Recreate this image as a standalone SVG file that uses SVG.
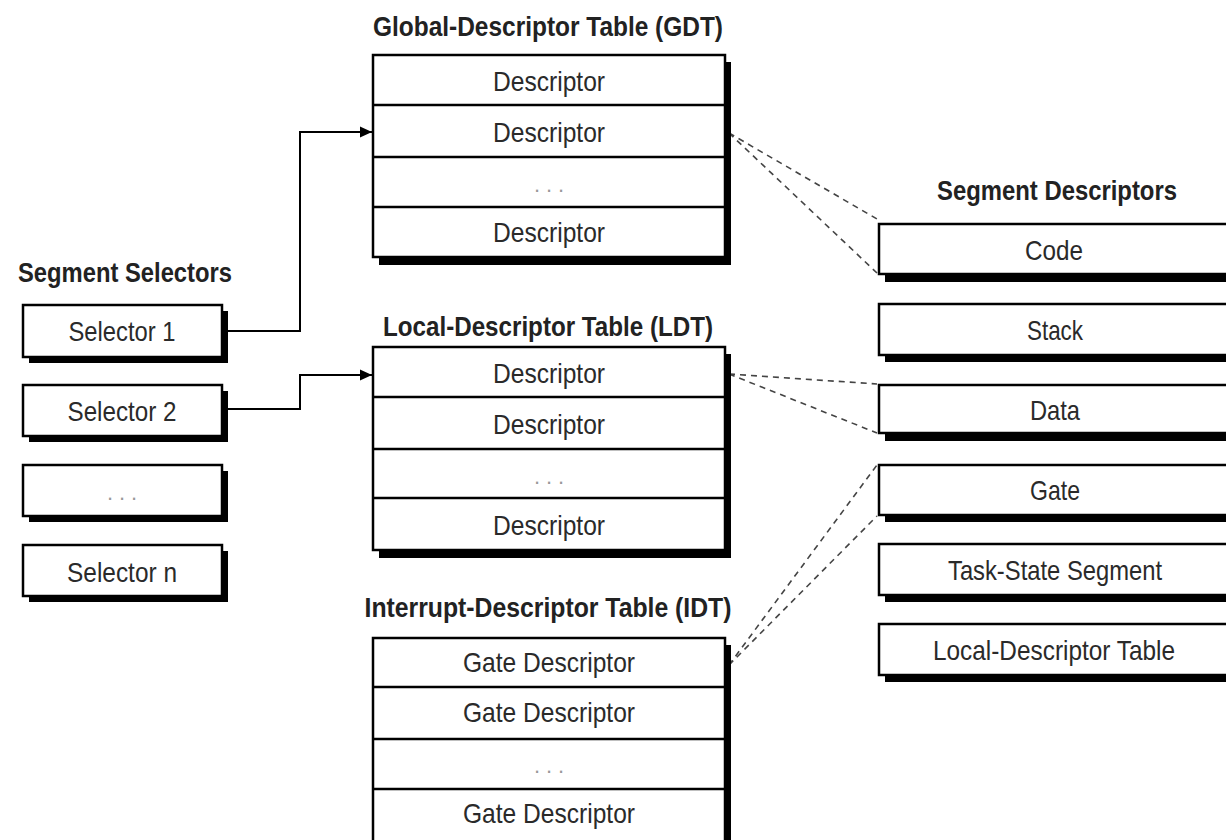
<svg xmlns="http://www.w3.org/2000/svg" width="1226" height="840" viewBox="0 0 1226 840">
<defs>
<style>
.sh{fill:#000}
.bx{fill:#fff;stroke:#000;stroke-width:2.5}
.dv{stroke:#000;stroke-width:2.5}
.t{font-family:"Liberation Sans",Arial,sans-serif;font-size:28px;fill:#2a2a2a;text-anchor:middle}
.h{font-family:"Liberation Sans",Arial,sans-serif;font-size:28px;font-weight:bold;fill:#222;text-anchor:middle}
.dots{font-family:"Liberation Sans",Arial,sans-serif;font-size:22px;fill:#999;text-anchor:middle}
.cn{fill:none;stroke:#000;stroke-width:2}
.ds{fill:none;stroke:#444;stroke-width:1.6;stroke-dasharray:6 5}
</style>
<marker id="arr" viewBox="0 0 12 12" refX="12" refY="6" markerWidth="12" markerHeight="12" markerUnits="userSpaceOnUse" orient="auto">
<path d="M0,0.5 L12,6 L0,11.5 z" fill="#000"/>
</marker>
</defs>
<rect width="1226" height="840" fill="#fff"/>

<g id="connectors">
<path class="cn" d="M222,331 H300 V132 H372" marker-end="url(#arr)"/>
<path class="cn" d="M222,409 H300 V375 H372" marker-end="url(#arr)"/>
<path class="ds" d="M729,133 L877,219"/>
<path class="ds" d="M729,133 L877,273"/>
<path class="ds" d="M729,374 L877,384"/>
<path class="ds" d="M729,374 L877,433"/>
<path class="ds" d="M729,665 L877,465"/>
<path class="ds" d="M729,665 L877,516"/>
</g>

<g id="selectors">
<text class="h" x="125" y="282" textLength="214" lengthAdjust="spacingAndGlyphs">Segment Selectors</text>
<g id="sel1">
<rect class="sh" x="29" y="311" width="199" height="52"/>
<rect class="bx" x="23" y="305" width="199" height="52"/>
<text class="t" x="122" y="341" textLength="107" lengthAdjust="spacingAndGlyphs">Selector 1</text>
</g>
<g id="sel2">
<rect class="sh" x="29" y="391" width="199" height="51"/>
<rect class="bx" x="23" y="385" width="199" height="51"/>
<text class="t" x="122" y="421" textLength="109" lengthAdjust="spacingAndGlyphs">Selector 2</text>
</g>
<g id="seldots">
<rect class="sh" x="29" y="471" width="199" height="51"/>
<rect class="bx" x="23" y="465" width="199" height="51"/>
<text class="dots" x="122" y="500" textLength="30" lengthAdjust="spacing">. . .</text>
</g>
<g id="seln">
<rect class="sh" x="29" y="551" width="199" height="51"/>
<rect class="bx" x="23" y="545" width="199" height="51"/>
<text class="t" x="122" y="582" textLength="110" lengthAdjust="spacingAndGlyphs">Selector n</text>
</g>
</g>

<g id="gdt">
<text class="h" x="548" y="36" textLength="350" lengthAdjust="spacingAndGlyphs">Global-Descriptor Table (GDT)</text>
<rect class="sh" x="379" y="62" width="352" height="203"/>
<rect class="bx" x="373" y="55" width="352" height="202"/>
<line class="dv" x1="373" y1="105" x2="725" y2="105"/>
<line class="dv" x1="373" y1="157" x2="725" y2="157"/>
<line class="dv" x1="373" y1="207" x2="725" y2="207"/>
<text class="t" x="549" y="91" textLength="112" lengthAdjust="spacingAndGlyphs">Descriptor</text>
<text class="t" x="549" y="142" textLength="112" lengthAdjust="spacingAndGlyphs">Descriptor</text>
<text class="dots" x="549" y="192" textLength="30" lengthAdjust="spacing">. . .</text>
<text class="t" x="549" y="242" textLength="112" lengthAdjust="spacingAndGlyphs">Descriptor</text>
</g>

<g id="ldt">
<text class="h" x="548" y="336" textLength="330" lengthAdjust="spacingAndGlyphs">Local-Descriptor Table (LDT)</text>
<rect class="sh" x="379" y="354" width="352" height="204"/>
<rect class="bx" x="373" y="347" width="352" height="203"/>
<line class="dv" x1="373" y1="397" x2="725" y2="397"/>
<line class="dv" x1="373" y1="449" x2="725" y2="449"/>
<line class="dv" x1="373" y1="498" x2="725" y2="498"/>
<text class="t" x="549" y="383" textLength="112" lengthAdjust="spacingAndGlyphs">Descriptor</text>
<text class="t" x="549" y="434" textLength="112" lengthAdjust="spacingAndGlyphs">Descriptor</text>
<text class="dots" x="549" y="484" textLength="30" lengthAdjust="spacing">. . .</text>
<text class="t" x="549" y="535" textLength="112" lengthAdjust="spacingAndGlyphs">Descriptor</text>
</g>

<g id="idt">
<text class="h" x="548" y="617" textLength="367" lengthAdjust="spacingAndGlyphs">Interrupt-Descriptor Table (IDT)</text>
<rect class="sh" x="379" y="645" width="352" height="210"/>
<rect class="bx" x="373" y="638" width="352" height="210"/>
<line class="dv" x1="373" y1="687" x2="725" y2="687"/>
<line class="dv" x1="373" y1="739" x2="725" y2="739"/>
<line class="dv" x1="373" y1="789" x2="725" y2="789"/>
<text class="t" x="549" y="672" textLength="172" lengthAdjust="spacingAndGlyphs">Gate Descriptor</text>
<text class="t" x="549" y="722" textLength="172" lengthAdjust="spacingAndGlyphs">Gate Descriptor</text>
<text class="dots" x="549" y="773" textLength="30" lengthAdjust="spacing">. . .</text>
<text class="t" x="549" y="823" textLength="172" lengthAdjust="spacingAndGlyphs">Gate Descriptor</text>
</g>

<g id="segdesc">
<text class="h" x="1057" y="200" textLength="240" lengthAdjust="spacingAndGlyphs">Segment Descriptors</text>
<g id="code">
<rect class="sh" x="885" y="231" width="352" height="51"/>
<rect class="bx" x="879" y="224" width="352" height="50"/>
<text class="t" x="1054" y="260" textLength="58" lengthAdjust="spacingAndGlyphs">Code</text>
</g>
<g id="stack">
<rect class="sh" x="885" y="311" width="352" height="51"/>
<rect class="bx" x="879" y="304" width="352" height="51"/>
<text class="t" x="1055" y="340" textLength="56" lengthAdjust="spacingAndGlyphs">Stack</text>
</g>
<g id="data">
<rect class="sh" x="885" y="392" width="352" height="49"/>
<rect class="bx" x="879" y="385" width="352" height="48"/>
<text class="t" x="1055" y="420" textLength="50" lengthAdjust="spacingAndGlyphs">Data</text>
</g>
<g id="gate">
<rect class="sh" x="885" y="472" width="352" height="50"/>
<rect class="bx" x="879" y="465" width="352" height="50"/>
<text class="t" x="1055" y="500" textLength="50" lengthAdjust="spacingAndGlyphs">Gate</text>
</g>
<g id="tss">
<rect class="sh" x="885" y="551" width="352" height="51"/>
<rect class="bx" x="879" y="544" width="352" height="51"/>
<text class="t" x="1055" y="580" textLength="214" lengthAdjust="spacingAndGlyphs">Task-State Segment</text>
</g>
<g id="ldtseg">
<rect class="sh" x="885" y="631" width="352" height="51"/>
<rect class="bx" x="879" y="624" width="352" height="51"/>
<text class="t" x="1054" y="660" textLength="242" lengthAdjust="spacingAndGlyphs">Local-Descriptor Table</text>
</g>
</g>
</svg>
